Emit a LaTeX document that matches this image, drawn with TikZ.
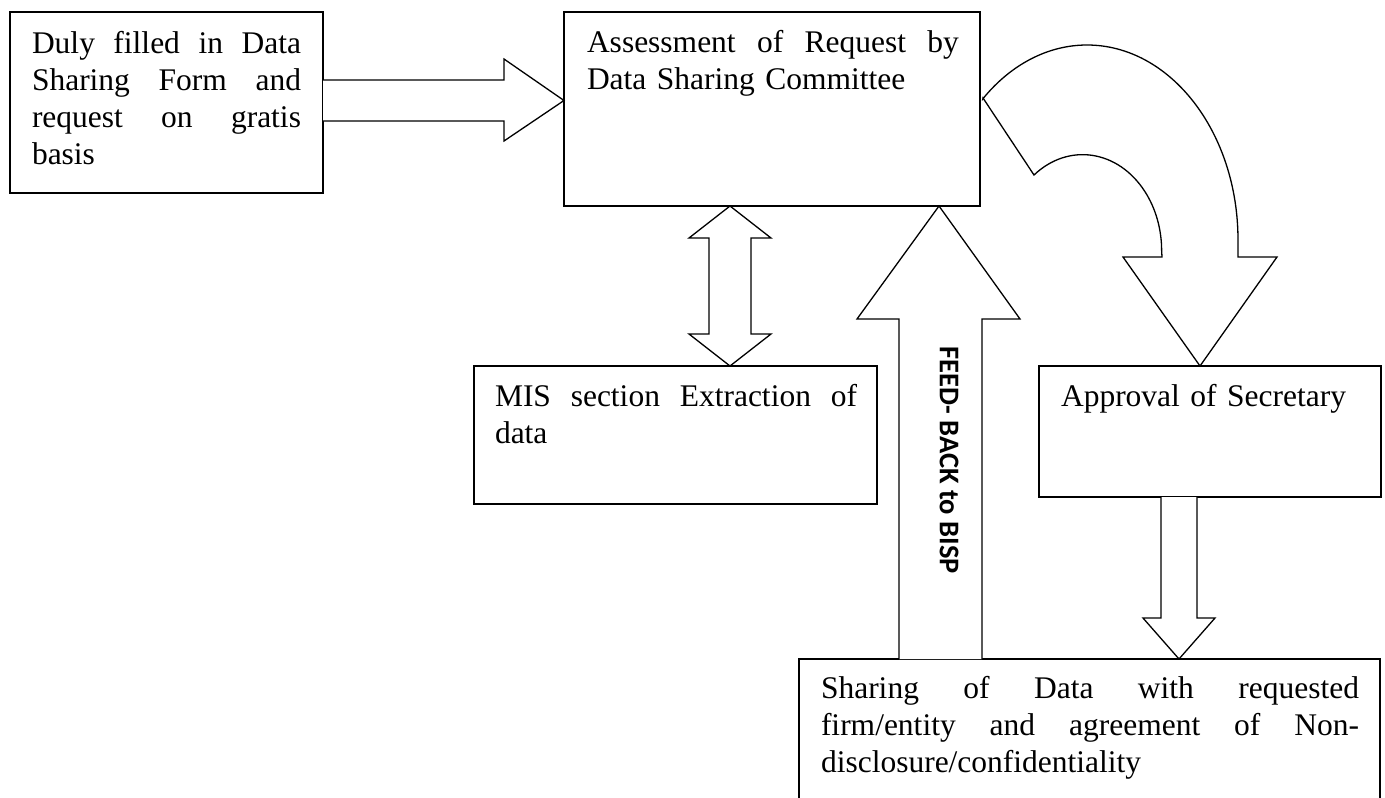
\documentclass[tikz,border=0pt]{standalone}
\usepackage{fontspec}
\setmainfont{Liberation Serif}
\newfontfamily\fbfont{Carlito}
\usetikzlibrary{calc}
\newcommand\jl[2]{\makebox[#1][s]{\spaceskip=0pt\xspaceskip=0pt #2}}
\begin{document}
\begin{tikzpicture}[x=1pt,y=1pt,
  box/.style={draw, line width=1.4pt, inner sep=0pt, outer sep=0pt, anchor=north west},
  txt/.style={anchor=base west, inner sep=0pt, outer sep=0pt, align=left, font=\fontsize{31.5}{37.3}\selectfont},
  blk/.style={draw, line width=1.3pt, line join=miter, fill=white}]
\useasboundingbox (0,0) rectangle (1385,-798);
% boxes
\node[box, minimum width=313pt, minimum height=181pt] (b1) at (10,-12) {};
\node[box, minimum width=416pt, minimum height=194pt] (b2) at (564,-12) {};
\node[box, minimum width=403pt, minimum height=138pt] (mis) at (474,-366) {};
\node[box, minimum width=342pt, minimum height=131pt] (appr) at (1039,-366) {};
\node[box, minimum width=581pt, minimum height=170pt] (share) at (799,-659) {};
% texts
\node[txt, text width=269pt] (t1) at ($(b1.north west)+(22,-41)$)
  {\jl{269pt}{Duly filled in Data}\\\jl{269pt}{Sharing Form and}\\\jl{269pt}{request on gratis}\\basis};
\node[txt, text width=372pt] (t2) at ($(b2.north west)+(23,-40)$)
  {\jl{372pt}{Assessment of Request by}\\Data Sharing Committee};
\node[txt, text width=362pt] (t3) at ($(mis.north west)+(21,-40)$)
  {\jl{362pt}{MIS section Extraction of}\\data};
\node[txt, text width=300pt] (t4) at ($(appr.north west)+(22,-40)$)
  {Approval of Secretary};
\node[txt, text width=538pt] (t5) at ($(share.north west)+(22,-39)$)
  {\jl{538pt}{Sharing of Data with requested}\\\jl{538pt}{firm/entity and agreement of Non-}\\disclosure/confidentiality};
% right arrow b1 -> b2
\draw[blk] (b1.east |- 0,-80) -- (504,-80) -- (504,-59) -- (b2.west |- 0,-100.5)
  -- (504,-141) -- (504,-121) -- (b1.east |- 0,-121);
% double arrow b2 <-> mis
\draw[blk] (730,-206) coordinate (dtop) -- (771,-238) -- (751,-238) -- (751,-334) -- (771,-334)
  -- (730,-366) coordinate (dbot) -- (689,-334) -- (709,-334) -- (709,-238) -- (689,-238) -- cycle;
% feedback arrow share -> b2
\draw[blk] (899,-659) -- (899,-319) -- (857,-319) -- (939,-206) -- (1020,-319) -- (982,-319) -- (982,-659);
\node[rotate=-90, font=\fbfont\bfseries\fontsize{28.5}{32}\selectfont, inner sep=0pt] (fb) at (949,-460) {FEED- BACK to BISP};
% curved arrow b2 -> appr
\draw[blk] (983,-98) -- (1034,-175) arc[start angle=128, end angle=0, x radius=79pt, y radius=96pt]
  -- (1162,-257) -- (1123,-257) -- (1200,-366) -- (1277,-257) -- (1238,-257) -- (1238,-240)
  arc[start angle=0, end angle=133.6, x radius=151pt, y radius=195pt] -- cycle;
% down arrow appr -> share
\draw[blk] (1161,-497) -- (1161,-618) -- (1143,-618) -- (1179,-659) -- (1215,-618) -- (1197,-618) -- (1197,-497);
\end{tikzpicture}
\end{document}
